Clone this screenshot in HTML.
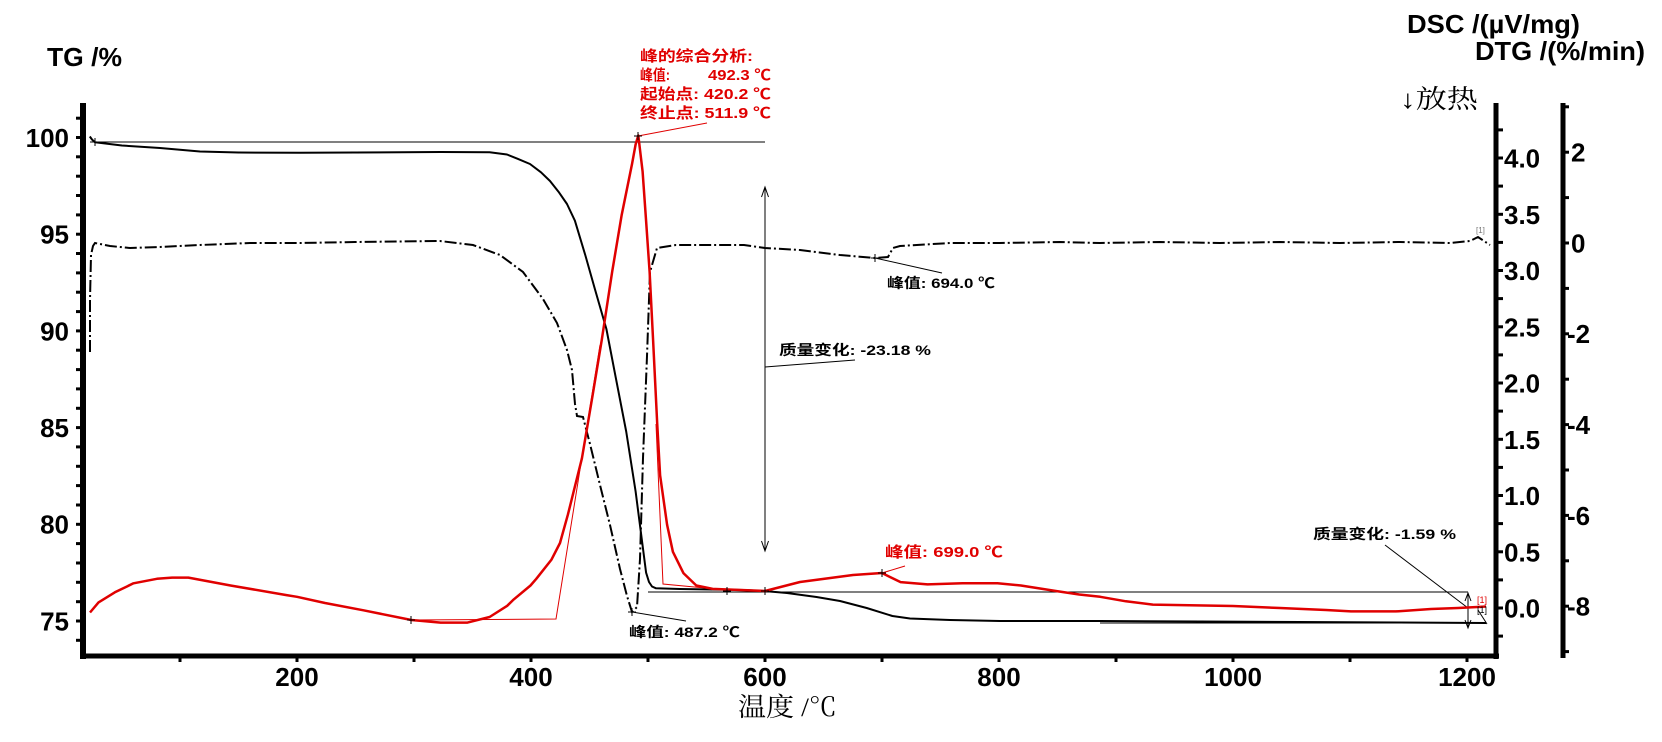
<!DOCTYPE html>
<html>
<head>
<meta charset="utf-8">
<style>
html,body{margin:0;padding:0;background:#fff;}
svg{display:block;}
.ax{font-family:"Liberation Sans","Noto Sans CJK SC",sans-serif;font-weight:bold;font-size:26px;fill:#000;}
.an{font-family:"Liberation Sans","Noto Sans CJK SC",sans-serif;font-weight:bold;font-size:14px;fill:#000;}
.rd{font-family:"Liberation Sans","Noto Sans CJK SC",sans-serif;font-weight:bold;font-size:15px;fill:#e00000;}
.sf{font-family:"Liberation Serif","Noto Serif CJK SC",serif;font-size:26px;fill:#000;}
</style>
</head>
<body>
<svg width="1662" height="742" viewBox="0 0 1662 742" xmlns="http://www.w3.org/2000/svg">
<rect width="1662" height="742" fill="#fff"/>

<!-- Axis titles -->
<text class="ax" x="47" y="66" textLength="75" lengthAdjust="spacingAndGlyphs">TG /%</text>
<text class="ax" x="1407" y="33" font-size="27" textLength="173" lengthAdjust="spacingAndGlyphs">DSC /(µV/mg)</text>
<text class="ax" x="1475" y="60" font-size="27" textLength="170" lengthAdjust="spacingAndGlyphs">DTG /(%/min)</text>
<text class="sf" x="1400" y="108" font-size="27" textLength="78" lengthAdjust="spacingAndGlyphs">↓放热</text>
<text class="sf" x="738" y="716" textLength="99" lengthAdjust="spacingAndGlyphs">温度 /℃</text>

<!-- Axes lines -->
<g stroke="#000" fill="none">
<line x1="83" y1="103" x2="83" y2="659" stroke-width="6"/>
<line x1="80" y1="656" x2="1499" y2="656" stroke-width="5"/>
<line x1="1496" y1="103" x2="1496" y2="659" stroke-width="5"/>
<line x1="1563" y1="103" x2="1563" y2="658" stroke-width="5"/>
</g>

<!-- Left ticks -->
<g stroke="#000" stroke-width="3">
<line x1="76" y1="118.2" x2="83" y2="118.2"/><line x1="76" y1="137.5" x2="83" y2="137.5"/>
<line x1="76" y1="156.8" x2="83" y2="156.8"/><line x1="76" y1="176.2" x2="83" y2="176.2"/>
<line x1="76" y1="195.5" x2="83" y2="195.5"/><line x1="76" y1="214.9" x2="83" y2="214.9"/>
<line x1="76" y1="234.2" x2="83" y2="234.2"/><line x1="76" y1="253.5" x2="83" y2="253.5"/>
<line x1="76" y1="272.9" x2="83" y2="272.9"/><line x1="76" y1="292.2" x2="83" y2="292.2"/>
<line x1="76" y1="311.6" x2="83" y2="311.6"/><line x1="76" y1="330.9" x2="83" y2="330.9"/>
<line x1="76" y1="350.2" x2="83" y2="350.2"/><line x1="76" y1="369.6" x2="83" y2="369.6"/>
<line x1="76" y1="388.9" x2="83" y2="388.9"/><line x1="76" y1="408.3" x2="83" y2="408.3"/>
<line x1="76" y1="427.6" x2="83" y2="427.6"/><line x1="76" y1="446.9" x2="83" y2="446.9"/>
<line x1="76" y1="466.3" x2="83" y2="466.3"/><line x1="76" y1="485.6" x2="83" y2="485.6"/>
<line x1="76" y1="505.0" x2="83" y2="505.0"/><line x1="76" y1="524.3" x2="83" y2="524.3"/>
<line x1="76" y1="543.6" x2="83" y2="543.6"/><line x1="76" y1="563.0" x2="83" y2="563.0"/>
<line x1="76" y1="582.3" x2="83" y2="582.3"/><line x1="76" y1="601.7" x2="83" y2="601.7"/>
<line x1="76" y1="621.0" x2="83" y2="621.0"/><line x1="76" y1="640.3" x2="83" y2="640.3"/>
</g>
<g class="ax" text-anchor="end">
<text x="69" y="147">100</text>
<text x="69" y="243.5">95</text>
<text x="69" y="340.3">90</text>
<text x="69" y="437">85</text>
<text x="69" y="533.7">80</text>
<text x="69" y="630.4">75</text>
</g>

<!-- Bottom ticks -->
<g stroke="#000" stroke-width="3">
<line x1="180" y1="656" x2="180" y2="662"/><line x1="297" y1="656" x2="297" y2="662"/>
<line x1="414" y1="656" x2="414" y2="662"/><line x1="531" y1="656" x2="531" y2="662"/>
<line x1="648" y1="656" x2="648" y2="662"/><line x1="765" y1="656" x2="765" y2="662"/>
<line x1="882" y1="656" x2="882" y2="662"/><line x1="999" y1="656" x2="999" y2="662"/>
<line x1="1116" y1="656" x2="1116" y2="662"/><line x1="1233" y1="656" x2="1233" y2="662"/>
<line x1="1350" y1="656" x2="1350" y2="662"/><line x1="1467" y1="656" x2="1467" y2="662"/>
</g>
<g class="ax" text-anchor="middle">
<text x="297" y="686">200</text>
<text x="531" y="686">400</text>
<text x="765" y="686">600</text>
<text x="999" y="686">800</text>
<text x="1233" y="686">1000</text>
<text x="1467" y="686">1200</text>
</g>

<!-- DSC ticks -->
<g stroke="#000" stroke-width="3">
<line x1="1496" y1="636.1" x2="1503" y2="636.1"/><line x1="1496" y1="608" x2="1503" y2="608"/>
<line x1="1496" y1="579.9" x2="1503" y2="579.9"/><line x1="1496" y1="551.8" x2="1503" y2="551.8"/>
<line x1="1496" y1="523.6" x2="1503" y2="523.6"/><line x1="1496" y1="495.5" x2="1503" y2="495.5"/>
<line x1="1496" y1="467.4" x2="1503" y2="467.4"/><line x1="1496" y1="439.3" x2="1503" y2="439.3"/>
<line x1="1496" y1="411.1" x2="1503" y2="411.1"/><line x1="1496" y1="383" x2="1503" y2="383"/>
<line x1="1496" y1="354.9" x2="1503" y2="354.9"/><line x1="1496" y1="326.8" x2="1503" y2="326.8"/>
<line x1="1496" y1="298.6" x2="1503" y2="298.6"/><line x1="1496" y1="270.5" x2="1503" y2="270.5"/>
<line x1="1496" y1="242.4" x2="1503" y2="242.4"/><line x1="1496" y1="214.3" x2="1503" y2="214.3"/>
<line x1="1496" y1="186.1" x2="1503" y2="186.1"/><line x1="1496" y1="158" x2="1503" y2="158"/>
<line x1="1496" y1="129.9" x2="1503" y2="129.9"/>
</g>
<g class="ax">
<text x="1504" y="617.5">0.0</text>
<text x="1504" y="561.3">0.5</text>
<text x="1504" y="505">1.0</text>
<text x="1504" y="448.8">1.5</text>
<text x="1504" y="392.5">2.0</text>
<text x="1504" y="336.3">2.5</text>
<text x="1504" y="280">3.0</text>
<text x="1504" y="223.8">3.5</text>
<text x="1504" y="167.5">4.0</text>
</g>

<!-- DTG ticks -->
<g stroke="#000" stroke-width="3">
<line x1="1563" y1="106.8" x2="1569" y2="106.8"/><line x1="1563" y1="152.2" x2="1569" y2="152.2"/>
<line x1="1563" y1="197.6" x2="1569" y2="197.6"/><line x1="1563" y1="243" x2="1569" y2="243"/>
<line x1="1563" y1="288.4" x2="1569" y2="288.4"/><line x1="1563" y1="333.8" x2="1569" y2="333.8"/>
<line x1="1563" y1="379.2" x2="1569" y2="379.2"/><line x1="1563" y1="424.6" x2="1569" y2="424.6"/>
<line x1="1563" y1="470" x2="1569" y2="470"/><line x1="1563" y1="515.4" x2="1569" y2="515.4"/>
<line x1="1563" y1="560.8" x2="1569" y2="560.8"/><line x1="1563" y1="606.2" x2="1569" y2="606.2"/>
<line x1="1563" y1="651.6" x2="1569" y2="651.6"/>
</g>
<g class="ax">
<text x="1571" y="161.6">2</text>
<text x="1571" y="252.4">0</text>
<text x="1567" y="343.2">-2</text>
<text x="1567" y="434">-4</text>
<text x="1567" y="524.8">-6</text>
<text x="1567" y="615.6">-8</text>
</g>

<!-- Thin construction lines (black) -->
<g stroke="#000" stroke-width="1" fill="none">
<line x1="90" y1="142" x2="765" y2="142"/>
<line x1="648" y1="592" x2="1468" y2="592"/>
<line x1="1100" y1="623" x2="1484" y2="623"/>
<line x1="1478" y1="610" x2="1487" y2="624"/>
<!-- vertical double arrow -->
<line x1="765" y1="187" x2="765" y2="551"/>
<polyline points="761.5,197 765,187 768.5,197"/>
<polyline points="761.5,541 765,551 768.5,541"/>
<line x1="765" y1="367" x2="855" y2="360"/>
<!-- right arrow -->
<line x1="1468" y1="593" x2="1468" y2="628"/>
<polyline points="1465,601 1468,593 1471,601"/>
<polyline points="1465,620 1468,628 1471,620"/>
<line x1="1385" y1="545" x2="1468" y2="608"/>
<!-- leaders -->
<line x1="875" y1="258" x2="942" y2="273"/>
<line x1="632" y1="612" x2="686" y2="621"/>
</g>

<!-- Thin red construction lines -->
<g stroke="#e00000" stroke-width="1" fill="none">
<polyline points="411,620 556,619 600,345"/>
<polyline points="656,424 663,584 705,588"/>
<line x1="638" y1="136" x2="707" y2="123"/>
<line x1="882" y1="573" x2="905" y2="566"/>
</g>

<!-- DTG dash-dot curve -->
<path fill="none" stroke="#000" stroke-width="2" stroke-dasharray="12 3 2 3" d="M90,352 L90,300 L91,255 L93,246 L95,243 L110,246 L130,248 L160,247 L200,245 L250,243 L300,243 L355,242 L440,241 L473,245 L500,255 L523,272 L543,299 L557,323 L567,350 L572,370 L575,404 L577,416 L583,417 L590,444 L600,485 L610,525 L620,569 L627,596 L632,612 L637,607 L640,559 L643,458 L647,356 L650,272 L657,248 L676,245 L744,245 L765,248 L800,250 L840,255 L875,258 L888,257 L893,248 L900,246 L950,243 L1000,243 L1060,242 L1100,243 L1160,242 L1220,243 L1280,242 L1340,243 L1400,242 L1450,243 L1470,241 L1478,237 L1484,241 L1490,245"/>

<!-- TG black curve -->
<path fill="none" stroke="#000" stroke-width="2" stroke-linejoin="round" d="M89.8,136.5 L92,139.5 L95,142.3 L121.9,145.5 L160,148 L200,151.5 L238.6,152.5 L300,152.8 L355,152.5 L440.6,152 L489.6,152.2 L507,154.5 L517.7,158.8 L530,164 L541,172.3 L550,181 L558.5,191.7 L567,204 L574.9,220.7 L585.4,255.5 L594.7,288.4 L606.4,329 L615.7,377.3 L626.2,431.5 L635.6,491.4 L642.6,545.6 L646.1,572.7 L649,582 L652,586.5 L656,588.3 L680,589 L744,590 L764,591 L787,593 L816.5,597 L840,601 L866.7,608 L892.4,616 L910,618.5 L950,620 L1000,621 L1100,621 L1200,621.5 L1300,622 L1400,622.5 L1486,623"/>

<!-- DSC red curve -->
<path fill="none" stroke="#e00000" stroke-width="2.5" stroke-linejoin="round" d="M90,612.5 L98.5,602.4 L114.9,592.3 L133.5,583.3 L156.9,578.8 L172.1,577.6 L188.4,577.6 L230.5,585.5 L286.5,595.1 L297,596.8 L325,603 L363.5,610.3 L411.4,620 L440.6,622.6 L467.5,622.6 L489.6,617 L507.2,605.8 L513,600.1 L530.5,585.5 L536.3,578.8 L551.5,559.6 L560,543 L567.9,514.6 L581.9,458.4 L592.4,396.5 L601.7,340.3 L612.2,271.6 L621.6,215.4 L632.1,163.6 L635.6,144.5 L638.3,135.5 L642.6,171.5 L646.1,221 L649.6,271.6 L653.1,340.3 L657.2,423.5 L660.1,475.3 L667.1,524.8 L672.9,551.8 L683.4,573.1 L696.3,585.5 L712.6,588.9 L740.7,590 L765,591 L800,582 L853,575 L882,573 L890,577 L900.6,582.1 L927.5,584.4 L962.5,583.3 L997.5,583.3 L1020.9,585.5 L1055.9,591 L1079.2,594.5 L1100.2,596.8 L1125.9,601.3 L1152.8,604.6 L1233,606 L1280,608 L1326,610 L1351,611.4 L1396,611.4 L1431,609 L1458,608 L1480,606.9 L1486,606.5"/>

<!-- Cross markers -->
<g stroke="#000" stroke-width="1">
<path d="M91,142 h8 M95,138 v8"/>
<path d="M407,620 h8 M411,616 v8"/>
<path d="M634,136 h8 M638,132 v8"/>
<path d="M628,612 h8 M632,608 v8"/>
<path d="M723,591 h8 M727,587 v8"/>
<path d="M761,591 h8 M765,587 v8"/>
<path d="M878,573 h8 M882,569 v8"/>
<path d="M871,258 h8 M875,254 v8"/>
</g>

<!-- Annotations -->
<text class="rd" x="640" y="61" textLength="113" lengthAdjust="spacingAndGlyphs">峰的综合分析:</text>
<text class="rd" x="640" y="80" textLength="30" lengthAdjust="spacingAndGlyphs">峰值:</text>
<text class="rd" x="708" y="80" textLength="63" lengthAdjust="spacingAndGlyphs">492.3 ℃</text>
<text class="rd" x="640" y="99" textLength="131" lengthAdjust="spacingAndGlyphs">起始点: 420.2 ℃</text>
<text class="rd" x="640" y="118" textLength="131" lengthAdjust="spacingAndGlyphs">终止点: 511.9 ℃</text>
<text class="rd" x="885" y="557" font-size="17" textLength="118" lengthAdjust="spacingAndGlyphs">峰值: 699.0 ℃</text>

<text class="an" x="887" y="288" textLength="108" lengthAdjust="spacingAndGlyphs">峰值: 694.0 ℃</text>
<text class="an" x="779" y="355" textLength="152" lengthAdjust="spacingAndGlyphs">质量变化: -23.18 %</text>
<text class="an" x="629" y="637" textLength="111" lengthAdjust="spacingAndGlyphs">峰值: 487.2 ℃</text>
<text class="an" x="1313" y="539" textLength="143" lengthAdjust="spacingAndGlyphs">质量变化: -1.59 %</text>

<text x="1477" y="603" font-family="Liberation Sans, sans-serif" font-size="9" fill="#e00000">[1]</text>
<text x="1477" y="613" font-family="Liberation Sans, sans-serif" font-size="9" fill="#000">[1]</text>
<text x="1476" y="233" font-family="Liberation Sans, sans-serif" font-size="8" fill="#777">[1]</text>
</svg>
</body>
</html>
